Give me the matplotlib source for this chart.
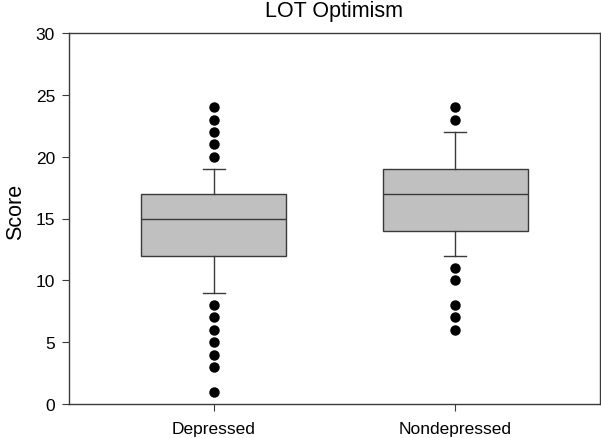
import matplotlib
matplotlib.use("Agg")
import matplotlib.pyplot as plt

# box stats (whiskers, quartiles, median, outliers)
groups = ["Depressed", "Nondepressed"]
whislo = [9, 12]
q1 = [12, 14]
med = [15, 17]
q3 = [17, 19]
whishi = [19, 22]
fliers = [
    [24, 23, 22, 21, 20, 8, 7, 6, 5, 4, 3, 1],
    [24, 23, 11, 10, 8, 7, 6],
]

plt.rcParams["font.family"] = ["Liberation Sans", "DejaVu Sans"]

stats = [
    dict(label=g, whislo=lo, q1=a, med=m, q3=b, whishi=hi, fliers=f)
    for g, lo, a, m, b, hi, f in zip(groups, whislo, q1, med, q3, whishi, fliers)
]

fig = plt.figure(figsize=(6.01, 4.39), dpi=100)
ax = fig.add_axes([0.1148, 0.0774, 0.8835, 0.8452])

edge = "#3a3a3a"
ax.bxp(
    stats,
    positions=[1, 2],
    widths=0.6,
    capwidths=0.09,
    patch_artist=True,
    boxprops=dict(facecolor="#c0c0c0", edgecolor=edge, linewidth=1.0),
    medianprops=dict(color=edge, linewidth=1.0),
    whiskerprops=dict(color=edge, linewidth=1.0),
    capprops=dict(color=edge, linewidth=1.0),
    flierprops=dict(marker="o", markerfacecolor="black", markeredgecolor="black",
                    markersize=6.5, linestyle="none"),
)

ax.set_xlim(0.4, 2.6)
ax.set_ylim(0, 30)
ax.set_yticks(range(0, 31, 5))
ax.set_xticks([1, 2])
ax.set_xticklabels(groups)
ax.tick_params(axis="both", direction="out", length=5, color=edge, labelsize=12.5)
ax.tick_params(axis="x", pad=7)
ax.tick_params(axis="y", pad=5)
for s in ax.spines.values():
    s.set_color(edge)
    s.set_linewidth(1.0)

ax.set_ylabel("Score", fontsize=15.5)
ax.yaxis.set_label_coords(-0.08, 0.52)
ax.set_title("LOT Optimism", fontsize=15.5, pad=12)

fig.savefig("out.png", dpi=100)
